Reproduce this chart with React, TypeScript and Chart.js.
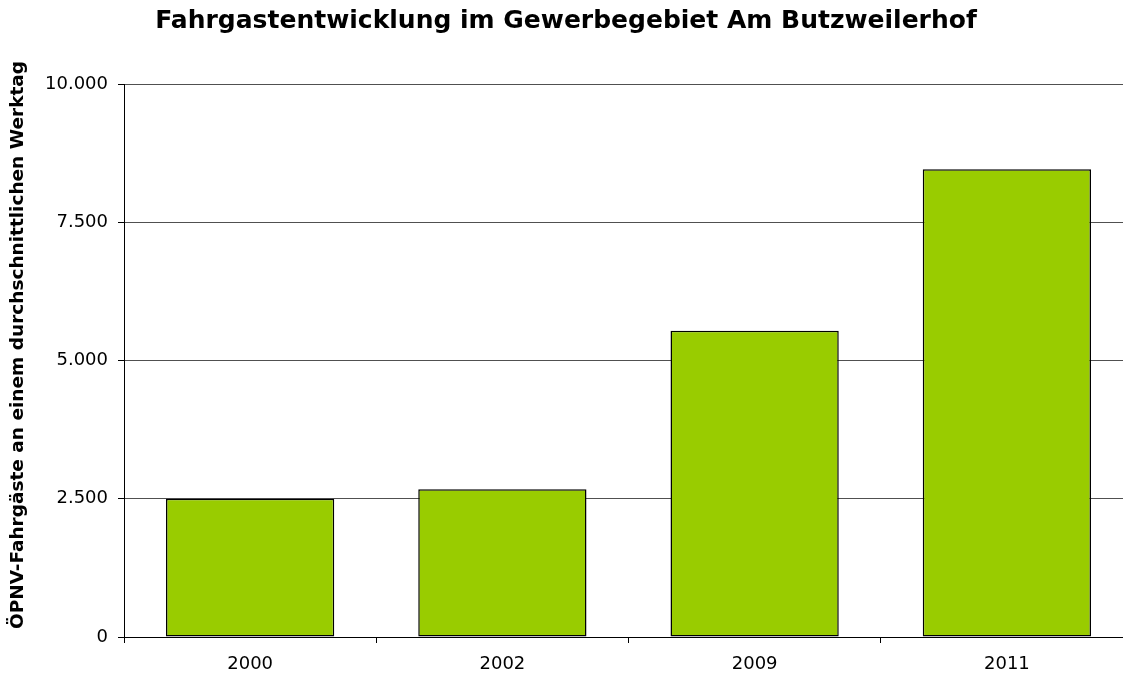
import React, { useEffect, useRef } from "react";
import { Chart, registerables } from "chart.js";

Chart.register(...registerables);

const categories = ["2000", "2002", "2009", "2011"];
const passengers = [2500, 2670, 5540, 8460];
const yTicks = [0, 2500, 5000, 7500, 10000];

const titleText = "Fahrgastentwicklung im Gewerbegebiet Am Butzweilerhof";
const yTitle = "ÖPNV-Fahrgäste an einem durchschnittlichen Werktag";

const FONT = "'DejaVu Sans', Verdana, sans-serif";

function fmt(v: number): string {
  return v.toLocaleString("de-DE");
}

const textPlugin = {
  id: "customTexts",
  afterDraw(chart: any) {
    const ctx = chart.ctx as CanvasRenderingContext2D;
    ctx.save();
    ctx.fillStyle = "#000";
    ctx.font = `bold 25px ${FONT}`;
    ctx.textAlign = "center";
    ctx.textBaseline = "alphabetic";
    ctx.fillText(titleText, 566, 28);
    ctx.restore();

    ctx.save();
    ctx.fillStyle = "#000";
    ctx.font = `bold 18.5px ${FONT}`;
    ctx.textAlign = "center";
    ctx.textBaseline = "alphabetic";
    ctx.translate(23, 345);
    ctx.rotate(-Math.PI / 2);
    ctx.fillText(yTitle, 0, 0);
    ctx.restore();
  },
};

export default function App() {
  const ref = useRef<HTMLCanvasElement | null>(null);
  useEffect(() => {
    if (!ref.current) return;
    const chart = new Chart(ref.current, {
      type: "bar",
      data: {
        labels: categories,
        datasets: [
          {
            data: passengers,
            backgroundColor: "#99CC00",
            borderColor: "#000000",
            borderWidth: 1.5,
            borderSkipped: false,
            barPercentage: 0.667,
            categoryPercentage: 1,
          },
        ],
      },
      options: {
        animation: false,
        responsive: false,
        layout: { padding: { left: 0, right: 2, top: 84, bottom: 0 } },
        plugins: {
          legend: { display: false },
          tooltip: { enabled: false },
          title: { display: false },
        },
        scales: {
          x: {
            offset: true,
            grid: {
              offset: true,
              drawOnChartArea: false,
              drawTicks: true,
              tickLength: 6,
              color: "#000",
            },
            border: { color: "#000", width: 1 },
            ticks: { color: "#000", font: { family: FONT, size: 18 }, padding: 11 },
            afterFit: (s: any) => {
              s.height = 43;
            },
          },
          y: {
            min: 0,
            max: 10000,
            afterBuildTicks: (s: any) => {
              s.ticks = yTicks.map((v) => ({ value: v }));
            },
            grid: {
              color: "#505050",
              tickLength: 6,
              drawTicks: true,
              tickColor: "#000",
            },
            border: { color: "#000", width: 1 },
            ticks: {
              color: "#000",
              font: { family: FONT, size: 18 },
              padding: 10,
              callback: (v: any) => fmt(Number(v)),
            },
            afterFit: (s: any) => {
              s.width = 124;
            },
          },
        },
      },
      plugins: [textPlugin],
    } as any);
    return () => chart.destroy();
  }, []);
  return (
    <div
      style={{
        position: "fixed",
        left: 0,
        top: 0,
        width: 1123,
        height: 680,
        overflow: "hidden",
        background: "#fff",
      }}
    >
      <canvas ref={ref} width={1135} height={680} style={{ width: 1135, height: 680, display: "block" }} />
    </div>
  );
}
